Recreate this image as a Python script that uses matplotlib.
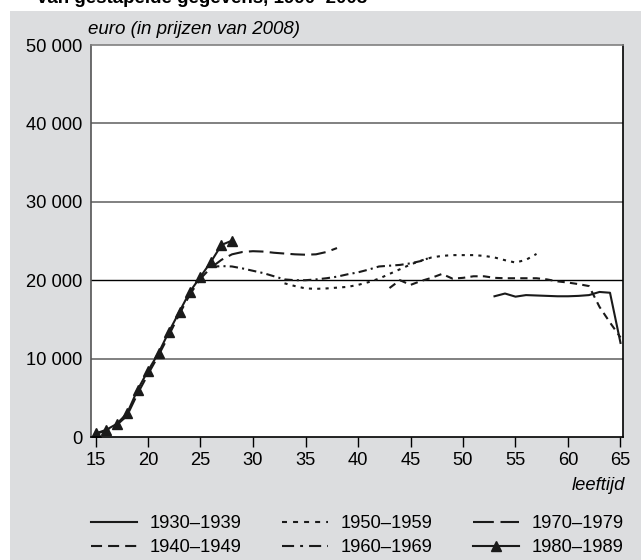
import numpy as np
import matplotlib
matplotlib.use("Agg")
import matplotlib.pyplot as plt
from matplotlib.patches import Rectangle
from matplotlib.lines import Line2D

plt.rcParams['font.family'] = ['Liberation Sans', 'DejaVu Sans']

# leeftijd en inkomen per geboortecohort (euro, prijzen 2008)
age_1930 = [53, 54, 55, 56, 57, 58, 59, 60, 61, 62, 63, 64, 65]
inc_1930 = [17950, 18300, 17900, 18100, 18050, 18000, 17950, 17950, 18000, 18100, 18500, 18400, 12000]

age_1940 = [43, 44, 45, 46, 47, 48, 49, 50, 51, 52, 53, 54, 55, 56, 57, 58, 59, 60, 61, 62, 63, 64, 65]
inc_1940 = [19000, 20000, 19400, 19900, 20300, 20800, 20200, 20300, 20500, 20500, 20300, 20250,
            20250, 20250, 20250, 20100, 19850, 19700, 19500, 19250, 16600, 14600, 12700]

age_1950 = [33, 34, 35, 36, 37, 38, 39, 40, 41, 42, 43, 44, 45, 46, 47, 48, 49, 50, 51, 52, 53, 54, 55, 56, 57]
inc_1950 = [19600, 19250, 18950, 18900, 18950, 19050, 19150, 19400, 19750, 20200, 20800, 21400, 22000,
            22500, 22900, 23100, 23200, 23200, 23200, 23100, 22900, 22550, 22250, 22600, 23350]

age_1960 = [26, 27, 28, 29, 30, 31, 32, 33, 34, 35, 36, 37, 38, 39, 40, 41, 42, 43, 44, 45, 46, 47]
inc_1960 = [21700, 21800, 21750, 21500, 21200, 20900, 20500, 20100, 20000, 20000, 20100, 20250,
            20450, 20750, 21000, 21350, 21750, 21850, 21950, 22150, 22450, 22950]

age_1970 = list(range(15, 39))
inc_1970 = [400, 800, 1500, 2700, 5500, 8000, 10400, 13000, 15700, 18200, 20200, 21600,
            22600, 23300, 23600, 23700, 23650, 23500, 23400, 23300, 23250, 23300, 23600, 24100]

age_1980 = list(range(15, 29))
inc_1980 = [450, 900, 1650, 3000, 6000, 8450, 10700, 13450, 16000, 18550, 20450, 22350, 24500, 25050]

cohorts = ['1930–1939', '1940–1949', '1950–1959', '1960–1969', '1970–1979', '1980–1989']
xticks = [15, 20, 25, 30, 35, 40, 45, 50, 55, 60, 65]
yticks = [0, 10000, 20000, 30000, 40000, 50000]
ylabels = ['0', '10 000', '20 000', '30 000', '40 000', '50 000']

W, H = 641, 560
fs = 13.2
fig = plt.figure(figsize=(W / 100, H / 100), dpi=100)
fig.patch.set_facecolor('white')
fig.patches.append(Rectangle((10 / W, 0), 1, 1 - 11 / H, transform=fig.transFigure,
                             facecolor='#dcdddf', edgecolor='none', zorder=-10))
fig.text(37 / W, 1 - 3 / H, 'van gestapelde gegevens, 1990–2008', fontsize=13.5,
         fontweight='bold', va='baseline', ha='left')

ax = fig.add_axes([90.5 / W, 1 - 437 / H, 532.5 / W, 392 / H])
ax.set_facecolor('white')

k = '#1a1a1a'
lw = 1.5
# stijlen: (lijn in grafiek, lijn in legenda)
styles = [None, (3.5, 2.5), (1.5, 2.5), (4, 2, 1, 2), (7, 3), None]
leg_styles = [None, (5.3, 2.9), (2.4, 2.9), (5.8, 2.9, 1.4, 2.9), (10, 3.2), None]
data = [(age_1930, inc_1930), (age_1940, inc_1940), (age_1950, inc_1950),
        (age_1960, inc_1960), (age_1970, inc_1970), (age_1980, inc_1980)]

handles = []
for i, (x, y) in enumerate(data):
    kw = dict(color=k, lw=lw)
    mk = dict(marker='^', ms=7) if i == 5 else {}
    if styles[i] is not None:
        ax.plot(x, y, dashes=styles[i], **kw, **mk)
        handles.append(Line2D([], [], dashes=leg_styles[i], **kw, **mk))
    else:
        ax.plot(x, y, **kw, **mk)
        handles.append(Line2D([], [], **kw, **mk))

for v in yticks[1:5]:
    ax.axhline(v, color='black' if v == 20000 else '#808080',
               lw=1.0 if v == 20000 else 1.4, zorder=0)

ax.set_xlim(15 - 5 / 10.5, 65 + 2.5 / 10.5)
ax.set_ylim(0, 50000)
ax.set_xticks(xticks)
ax.set_yticks(yticks)
ax.set_yticklabels(ylabels)
ax.tick_params(axis='x', direction='out', length=7, width=1, pad=4, labelsize=fs)
ax.tick_params(axis='y', length=0, pad=6, labelsize=fs)
ax.spines['top'].set_color('#808080')
ax.spines['left'].set_color('#555555')
for s in ax.spines.values():
    s.set_linewidth(1.2)

fig.text(88 / W, 1 - 30 / H, 'euro (in prijzen van 2008)', fontsize=13.5,
         style='italic', ha='left', va='center')
fig.text(625 / W, 1 - 486 / H, 'leeftijd', fontsize=fs, style='italic',
         ha='right', va='center')

leg = fig.legend(handles, cohorts, loc='upper left', bbox_to_anchor=(91 / W, 1 - 515 / H),
                 ncol=3, frameon=False, fontsize=fs, handlelength=2.5, handletextpad=0.7,
                 columnspacing=2.2, labelspacing=0.4, borderpad=0, borderaxespad=0,
                 numpoints=1)

fig.savefig('out.png', dpi=100)
